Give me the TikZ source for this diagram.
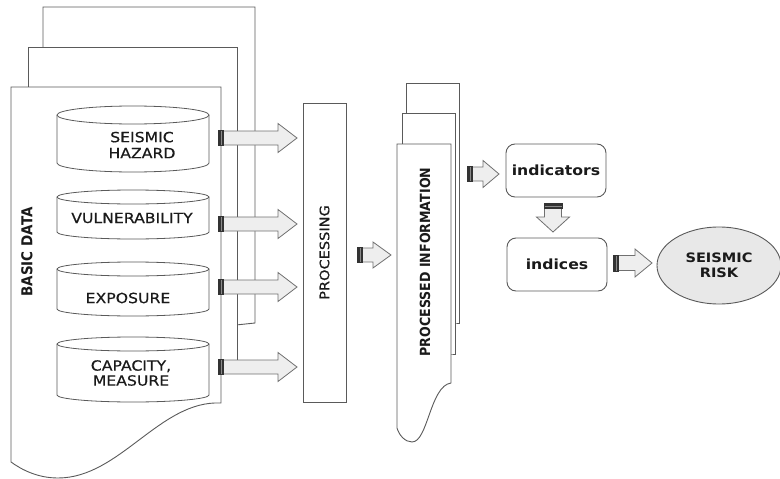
\documentclass[tikz,border=0pt]{standalone}
\usepackage{fontspec}
\setmainfont{DejaVu Sans}[FakeStretch=1.12]
\newfontfamily\condfont{DejaVu Sans}[FakeStretch=0.9]
\newfontfamily\labelfont{DejaVu Sans}[FakeStretch=1.12, FakeBold=0.5]
\usetikzlibrary{shapes.geometric}
\definecolor{sheetline}{HTML}{5A5A5A}
\definecolor{arrowfill}{HTML}{EEEEEE}
\definecolor{arrowline}{HTML}{707070}
\definecolor{barfill}{HTML}{333333}
\definecolor{barstripe}{HTML}{8A8A8A}
\definecolor{riskfill}{HTML}{E8E8E8}
\definecolor{txtcol}{HTML}{1A1A1A}
\tikzset{
  sheet/.style={draw=sheetline, fill=white, line width=0.9pt},
  cyl/.style={draw=sheetline, fill=white, line width=0.8pt},
  blockarrow/.style={draw=arrowline, fill=arrowfill, line width=0.8pt},
  label/.style={text=txtcol, inner sep=0pt, align=center, font=\labelfont\fontsize{14}{16}\selectfont},
  roundbox/.style={draw=sheetline, fill=white, rounded corners=9pt, line width=0.9pt,
     minimum width=100pt, minimum height=53pt, inner sep=0pt, text=txtcol,
     font=\fontsize{14}{16}\selectfont\bfseries},
}
% horizontal block arrow: x0, y, tip x, head start x, head half height, shaft half height
\newcommand\hblock[6]{%
  \draw[blockarrow] (#1,#2-#6) -- (#4,#2-#6) -- (#4,#2-#5) -- (#3,#2) -- (#4,#2+#5)
     -- (#4,#2+#6) -- (#1,#2+#6) -- cycle;
  \fill[barfill] (#1-1,#2-#6-1) rectangle (#1+5,#2+#6+1);
  \draw[barstripe, line width=0.8pt] (#1+2.5,#2-#6) -- (#1+2.5,#2+#6);
}
% vertical block arrow: x, y0, tip y, head start y, head half width, shaft half width
\newcommand\vblock[6]{%
  \draw[blockarrow] (#1-#6,#2) -- (#1-#6,#4) -- (#1-#5,#4) -- (#1,#3) -- (#1+#5,#4)
     -- (#1+#6,#4) -- (#1+#6,#2) -- cycle;
  \fill[barfill] (#1-#6-1,#2-1) rectangle (#1+#6+1,#2+5);
  \draw[barstripe, line width=0.8pt] (#1-#6,#2+2.5) -- (#1+#6,#2+2.5);
}
% cylinder: top y, bottom y, y radius
\newcommand\cylinder[3]{%
  \draw[cyl] (57,#1+#3) -- (57,#2-#3) arc[start angle=180, end angle=0, x radius=76, y radius=#3]
     -- (209,#1+#3) arc[start angle=0, end angle=-180, x radius=76, y radius=#3] -- cycle;
  \draw[cyl, fill=none] (57,#1+#3) arc[start angle=180, end angle=0, x radius=76, y radius=#3];
}
\begin{document}
\begin{tikzpicture}[x=1pt, y=-1pt]
\useasboundingbox (0,0) rectangle (780,479);

% ---------- basic data stack ----------
\draw[sheet] (43,7) -- (255,7) -- (255,323) -- (236,325) -- (43,325) -- cycle;
\draw[sheet] (28,47) -- (237,47) -- (237,366) -- (28,366) -- cycle;
\draw[sheet] (11,87) -- (221,87) -- (221,403)
   .. controls (160,400) and (120,478) .. (58,478)
   .. controls (38,478) and (22,470) .. (11,462) -- cycle;

\cylinder{106}{172}{9}
\cylinder{190}{239}{7}
\cylinder{262}{316}{7}
\cylinder{337}{402}{7}

\node[label] (hazard) at (142,145) {SEISMIC\\HAZARD};
\node[label] (vuln) at (132,218) {VULNERABILITY};
\node[label] (expo) at (128,298) {EXPOSURE};
\node[label, font=\labelfont\fontsize{14}{15}\selectfont] (capa) at (131,373) {CAPACITY,\\MEASURE};
\node[label, rotate=90, font=\condfont\fontsize{15}{17}\selectfont\bfseries] (basic) at (27,252) {BASIC DATA};

% ---------- arrows to processing ----------
\hblock{219}{138}{297}{278}{14.5}{7}
\hblock{219}{224}{297}{278}{14.5}{7}
\hblock{219}{287}{297}{278}{14.5}{7}
\hblock{219}{367}{297}{278}{14.5}{7}

% ---------- processing ----------
\node[draw=sheetline, line width=0.9pt, fill=white, minimum width=43pt, minimum height=299pt,
      inner sep=0pt] (proc) at (324.5,252.5) {};
\node[label, rotate=90, font=\labelfont\fontsize{13}{15}\selectfont] (proctext) at (proc.center) {PROCESSING};

\hblock{358}{255}{391}{373}{13}{7}

% ---------- processed information stack ----------
\draw[sheet] (406,83) -- (459,83) -- (459,323) -- (455,323) -- (406,323) -- cycle;
\draw[sheet] (402,113) -- (455,113) -- (455,354) -- (451,354) -- (402,354) -- cycle;
\draw[sheet] (397,144) -- (451,144) -- (451,383)
   .. controls (430,386) and (428,442) .. (412,442)
   .. controls (405,442) and (399,435) .. (397,428) -- cycle;
\node[label, rotate=90, font=\condfont\fontsize{14}{16}\selectfont\bfseries] (proctxt) at (425,262) {PROCESSED INFORMATION};

\hblock{468}{174}{499}{483}{13.5}{7}

% ---------- indicators / indices / risk ----------
\node[roundbox] (indic) at (556,170.5) {indicators};
\node[roundbox] (indices) at (557,264.5) {indices};
\vblock{553}{204}{232}{217}{16.5}{8.5}
\hblock{614}{263}{652}{635}{14}{7.5}
\node[ellipse, draw=sheetline, fill=riskfill, line width=0.9pt, minimum width=124pt,
      minimum height=77pt, inner sep=0pt, text=txtcol, align=center,
      font=\fontsize{13}{15}\selectfont\bfseries] (risk) at (719,265.5) {SEISMIC\\RISK};
\end{tikzpicture}
\end{document}
